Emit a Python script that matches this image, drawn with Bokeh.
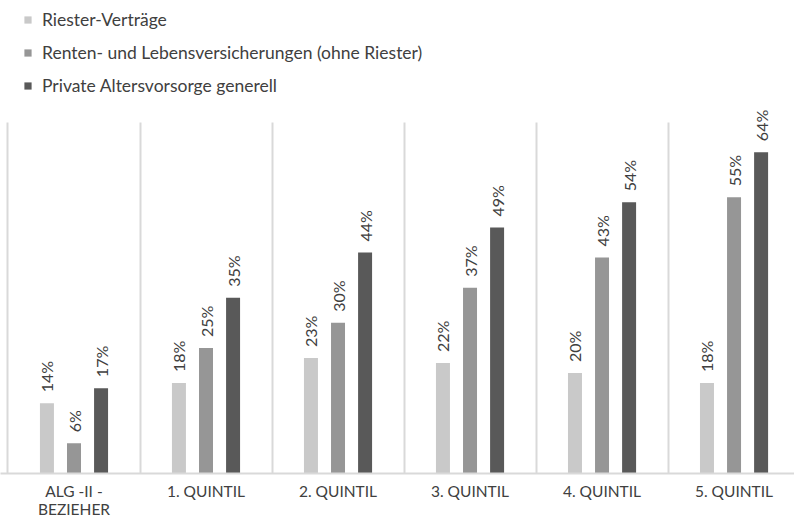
from bokeh.plotting import figure
from bokeh.models import ColumnDataSource, FixedTicker, Legend, LegendItem, Range1d
from bokeh.core.properties import value
from bokeh.embed import file_html
from bokeh.resources import INLINE
import math

categories = ["ALG -II -\nBEZIEHER", "1. QUINTIL", "2. QUINTIL", "3. QUINTIL", "4. QUINTIL", "5. QUINTIL"]
series_names = ["Riester-Verträge", "Renten- und Lebensversicherungen (ohne Riester)", "Private Altersvorsorge generell"]
riester = [14, 18, 23, 22, 20, 18]
renten = [6, 25, 30, 37, 43, 55]
privat = [17, 35, 44, 49, 54, 64]
series_values = [riester, renten, privat]
colors = ["#c9c9c9", "#969696", "#595959"]
offsets = [-0.205, 0.0, 0.205]

FONT = "Lato"
TXT = "#404040"

p = figure(width=794, height=521, output_backend="svg", toolbar_location=None,
           x_range=Range1d(-0.0568, 5.958), y_range=Range1d(0, 94.2),
           min_border_left=0, min_border_right=0, min_border_top=0, min_border_bottom=48)
p.outline_line_color = None
p.background_fill_color = "white"
p.border_fill_color = "white"

renderers = []
for vals, col, off, name in zip(series_values, colors, offsets, series_names):
    xs = [i + 0.5 + off for i in range(len(categories))]
    src = ColumnDataSource(dict(x=xs, top=vals, lab=[f"{v}%" for v in vals]))
    r = p.vbar(x="x", top="top", width=0.106, bottom=0, source=src,
               fill_color=col, line_color=None)
    renderers.append(r)
    p.text(x="x", y="top", text="lab", source=src, angle=math.pi / 2,
           text_align="left", text_baseline="middle", y_offset=-11,
           text_font=value(FONT), text_font_size="16px", text_color=TXT)

# axes
p.yaxis.visible = False
p.ygrid.visible = False
ax = p.xaxis[0]
ax.ticker = FixedTicker(ticks=[i + 0.5 for i in range(len(categories))])
ax.major_label_overrides = {i + 0.5: c for i, c in enumerate(categories)}
ax.major_tick_line_color = None
ax.minor_tick_line_color = None
ax.major_tick_out = 0
ax.major_tick_in = 0
ax.minor_tick_out = 0
ax.minor_tick_in = 0
ax.axis_label = None
ax.axis_label_standoff = 0
ax.axis_line_color = "#d9d9d9"
ax.axis_line_width = 2
ax.major_label_text_font = FONT
ax.major_label_text_font_size = "15.5px"
ax.major_label_text_color = TXT
ax.major_label_standoff = 8
ax.major_label_text_line_height = 1.0

p.xgrid.ticker = FixedTicker(ticks=list(range(len(categories) + 1)))
p.xgrid.grid_line_color = "#d9d9d9"
p.xgrid.grid_line_width = 2
p.xgrid.cross_bounds = (0, 70)

legend = Legend(items=[LegendItem(label=n, renderers=[r]) for n, r in zip(series_names, renderers)],
                location=(23, 377), orientation="vertical",
                glyph_width=9, glyph_height=9, label_height=21, label_standoff=10,
                spacing=12, padding=0, margin=0,
                border_line_color=None, background_fill_alpha=0,
                label_text_font=FONT, label_text_font_size="17.5px", label_text_color=TXT)
p.add_layout(legend, "center")

open("out.html", "w").write(file_html(p, INLINE))
